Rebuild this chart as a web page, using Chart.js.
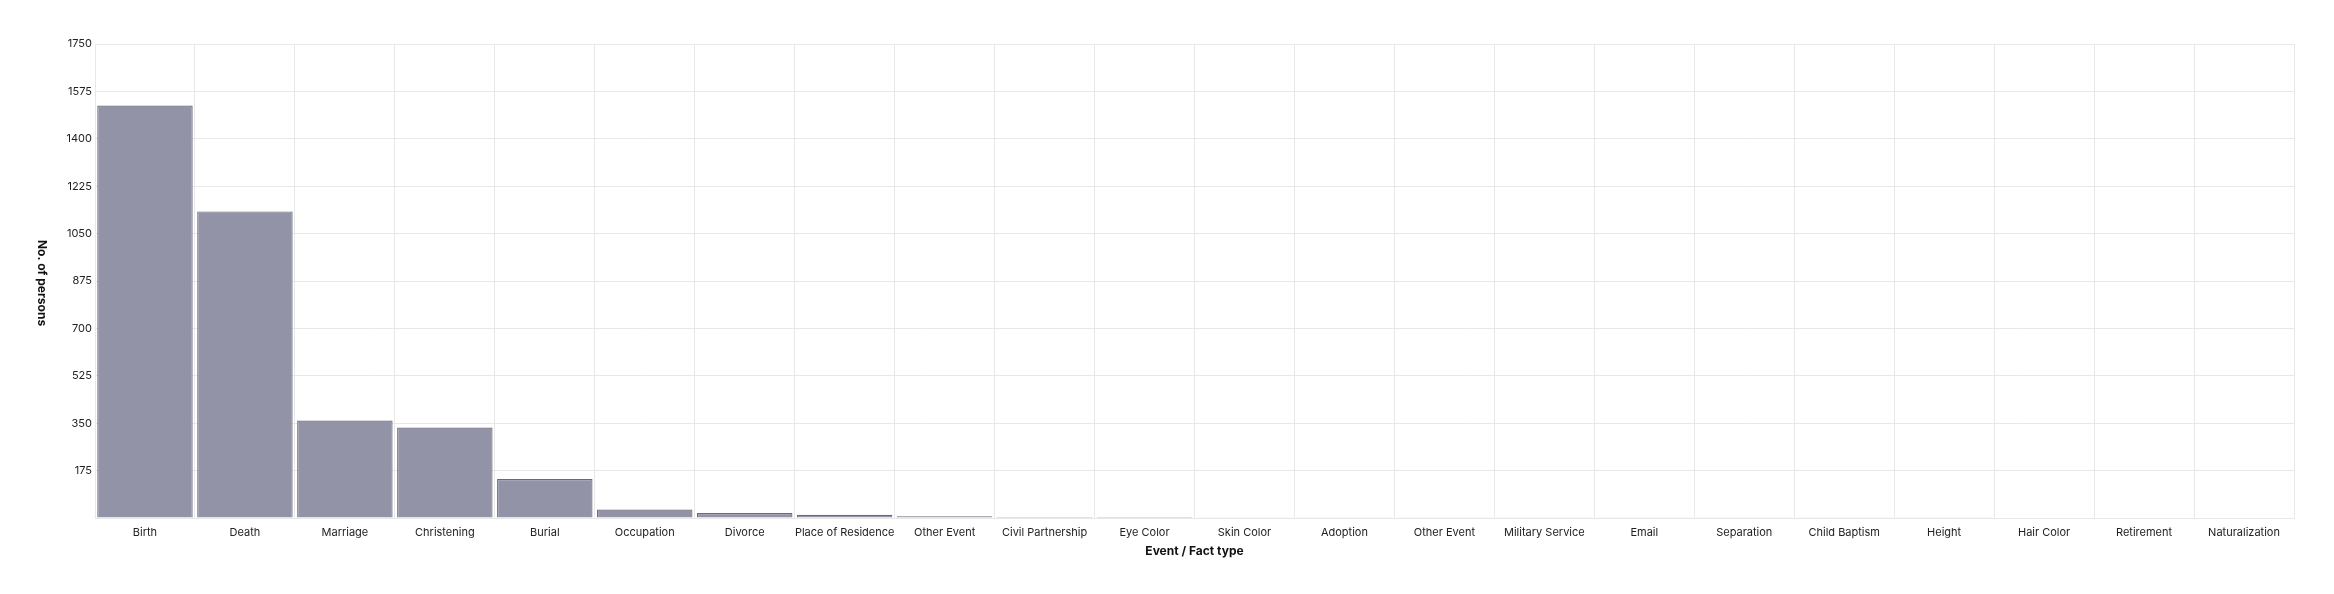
<!DOCTYPE html>
<html>
<head>
<meta charset="utf-8">
<script src="https://cdn.jsdelivr.net/npm/chart.js@4/dist/chart.umd.min.js"></script>
<style>
  html, body { margin: 0; padding: 0; background: #ffffff; }
  #wrap { width: 2334px; height: 594px; }
</style>
</head>
<body>
<div id="wrap"><canvas id="c" width="2334" height="594"></canvas></div>
<script>
const categories = [
  "Birth", "Death", "Marriage", "Christening", "Burial", "Occupation", "Divorce",
  "Place of Residence", "Other Event", "Civil Partnership", "Eye Color", "Skin Color",
  "Adoption", "Other Event", "Military Service", "Email", "Separation", "Child Baptism",
  "Height", "Hair Color", "Retirement", "Naturalization"
];
const personCounts = [
  1523, 1132, 360, 334, 144, 31, 18,
  12, 6, 4, 4, 3,
  1, 1, 1, 1, 1, 1,
  1, 0, 0, 0
];
const yTickValues = [0, 175, 350, 525, 700, 875, 1050, 1225, 1400, 1575, 1750];
const xTitle = "Event / Fact type";
const yTitle = "No. of persons";

const GRID = "#e8e8e8";
const FONT = "Inter, 'Noto Sans', sans-serif";

const yTitlePlugin = {
  id: "yTitleRotated",
  afterDraw(chart) {
    const ctx = chart.ctx;
    const area = chart.chartArea;
    ctx.save();
    ctx.translate(42, (area.top + area.bottom) / 2 + 2);
    ctx.rotate(Math.PI / 2);
    ctx.font = "bold 12px " + FONT;
    ctx.fillStyle = "#111111";
    ctx.textAlign = "center";
    ctx.textBaseline = "middle";
    ctx.fillText(yTitle, 0, 0);
    ctx.restore();
  }
};

new Chart(document.getElementById("c"), {
  type: "bar",
  data: {
    labels: categories,
    datasets: [{
      data: personCounts,
      backgroundColor: "#9393a8",
      borderColor: "#6a6a7e",
      borderWidth: 1.2,
      barPercentage: 0.955,
      categoryPercentage: 1.0
    }]
  },
  options: {
    responsive: false,
    devicePixelRatio: 1,
    animation: false,
    layout: { padding: { top: 44, right: 40, left: 0, bottom: 0 } },
    plugins: {
      legend: { display: false },
      tooltip: { enabled: false },
      title: { display: false }
    },
    scales: {
      x: {
        grid: { color: GRID, lineWidth: 1, drawTicks: false, offset: true },
        border: { color: GRID, width: 1 },
        ticks: {
          font: { family: FONT, size: 11 },
          color: "#222222",
          padding: 8,
          maxRotation: 0,
          autoSkip: false
        },
        title: {
          display: true,
          text: xTitle,
          font: { family: FONT, size: 12, weight: "bold" },
          color: "#111111",
          padding: { top: 0, bottom: 35 }
        },
        afterFit(scale) { scale.height = 76; }
      },
      y: {
        min: 0,
        max: 1750,
        afterBuildTicks(scale) {
          scale.ticks = yTickValues.map(v => ({ value: v }));
        },
        grid: { color: GRID, lineWidth: 1, drawTicks: false },
        border: { color: GRID, width: 1 },
        ticks: {
          font: { family: FONT, size: 11 },
          color: "#222222",
          padding: 3,
          callback: (v) => (v === 0 ? "" : String(v))
        },
        afterFit(scale) { scale.width = 95; }
      }
    }
  },
  plugins: [yTitlePlugin]
});
</script>
</body>
</html>
